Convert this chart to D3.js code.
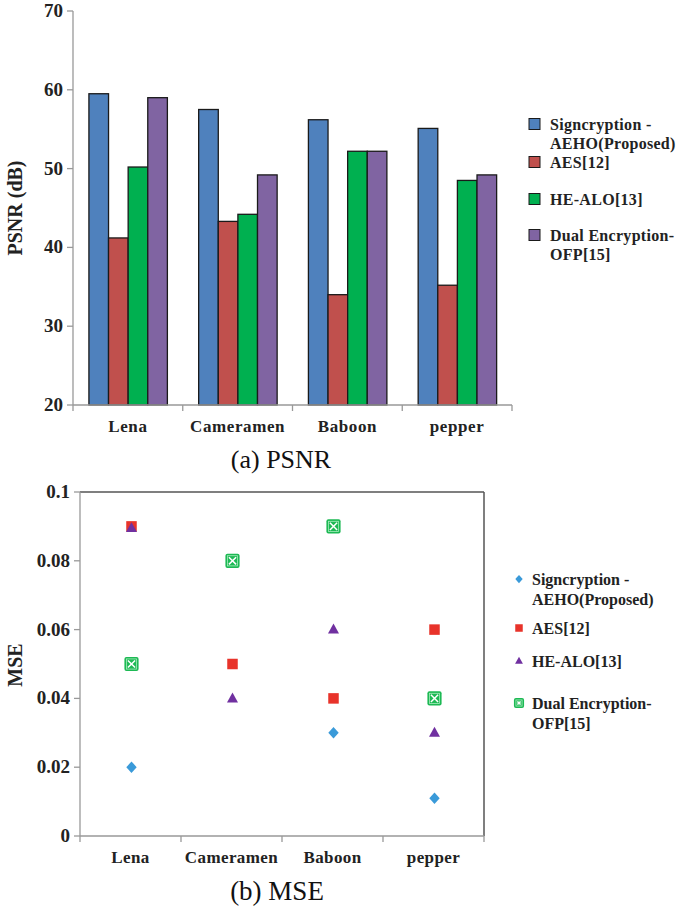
<!DOCTYPE html>
<html>
<head>
<meta charset="utf-8">
<script src="https://cdn.jsdelivr.net/npm/d3@7"></script>
<style>
  body { margin: 0; background: #fff; }
  svg { display: block; font-family: "Liberation Serif", "Times New Roman", serif; }
  .bold { fill: #222; font-weight: bold; }
</style>
</head>
<body>
<svg width="687" height="912"></svg>
<script>
// data
const categories = ["Lena", "Cameramen", "Baboon", "pepper"];
const seriesNames = ["Signcryption - AEHO(Proposed)", "AES[12]", "HE-ALO[13]", "Dual Encryption-OFP[15]"];
const legendLines = [["Signcryption -", "AEHO(Proposed)"], ["AES[12]"], ["HE-ALO[13]"], ["Dual Encryption-", "OFP[15]"]];

const psnrAEHO = [59.5, 57.5, 56.2, 55.1];
const psnrAES = [41.2, 43.3, 34.0, 35.2];
const psnrHEALO = [50.2, 44.2, 52.2, 48.5];
const psnrDualOFP = [59.0, 49.2, 52.2, 49.2];
const psnrTicks = [20, 30, 40, 50, 60, 70];

const mseAEHO = [0.02, null, 0.03, 0.011];
const mseAES = [0.09, 0.05, 0.04, 0.06];
const mseHEALO = [0.0895, 0.04, 0.06, 0.03];
const mseDualOFP = [0.05, 0.08, 0.09, 0.04];
const mseTicks = [0, 0.02, 0.04, 0.06, 0.08, 0.1];

const barColors = ["#4f81bd", "#c0504d", "#00b050", "#8064a2"];
const markerColors = ["#3a9ad9", "#e8332a", "#7030a0", "#1db954"];

const svg = d3.select("svg");

// ---------- (a) PSNR bar chart ----------
const psnrSeries = [psnrAEHO, psnrAES, psnrHEALO, psnrDualOFP];
const boxA = { left: 73, right: 512, top: 11, bottom: 405 };

const xa = d3.scaleBand().domain(categories).range([boxA.left, boxA.right]).padding(0);
const xa1 = d3.scaleBand().domain(d3.range(4))
  .range([xa.bandwidth() * 0.145, xa.bandwidth() * 0.86]).padding(0);
const ya = d3.scaleLinear().domain([20, 70]).range([boxA.bottom, boxA.top]);

const gA = svg.append("g");

categories.forEach((c, ci) => {
  gA.selectAll(null)
    .data(psnrSeries.map((s, si) => ({ si, v: s[ci] })))
    .enter().append("rect")
    .attr("x", d => xa(c) + xa1(d.si))
    .attr("y", d => ya(d.v))
    .attr("width", xa1.bandwidth())
    .attr("height", d => ya(20) - ya(d.v))
    .attr("fill", d => barColors[d.si])
    .attr("stroke", "#1a1a1a")
    .attr("stroke-width", 1.3);
});

// axes
gA.append("line").attr("x1", boxA.left).attr("x2", boxA.left)
  .attr("y1", ya(70)).attr("y2", ya(20)).attr("stroke", "#999").attr("stroke-width", 1.3);
gA.append("line").attr("x1", boxA.left).attr("x2", boxA.right)
  .attr("y1", ya(20)).attr("y2", ya(20)).attr("stroke", "#999").attr("stroke-width", 1.3);

gA.selectAll(null).data(psnrTicks).enter().append("line")
  .attr("x1", boxA.left - 6).attr("x2", boxA.left)
  .attr("y1", d => ya(d)).attr("y2", d => ya(d))
  .attr("stroke", "#999").attr("stroke-width", 1.3);
gA.selectAll(null).data(psnrTicks).enter().append("text")
  .attr("class", "bold")
  .attr("x", boxA.left - 10).attr("y", d => ya(d) + 6)
  .attr("text-anchor", "end").attr("font-size", 19)
  .text(d => d);

const bandEdgesA = categories.map(c => xa(c)).concat([boxA.right]);
gA.selectAll(null).data(bandEdgesA).enter().append("line")
  .attr("x1", d => d).attr("x2", d => d)
  .attr("y1", ya(20)).attr("y2", ya(20) + 6)
  .attr("stroke", "#999").attr("stroke-width", 1.3);
gA.selectAll(null).data(categories).enter().append("text")
  .attr("class", "bold")
  .attr("x", d => xa(d) + xa.bandwidth() / 2).attr("y", 432)
  .attr("text-anchor", "middle").attr("font-size", 17)
  .attr("letter-spacing", 0.6)
  .text(d => d);

gA.append("text")
  .attr("class", "bold")
  .attr("transform", `translate(22,208) rotate(-90)`)
  .attr("text-anchor", "middle").attr("font-size", 20)
  .text("PSNR (dB)");

gA.append("text").attr("x", 281).attr("y", 468)
  .attr("text-anchor", "middle").attr("font-size", 26).attr("fill", "#111")
  .text("(a) PSNR");

// legend a
const legARows = [124, 162, 199, 235];
const legA = gA.selectAll(null).data(seriesNames).enter().append("g")
  .attr("transform", (d, i) => `translate(529,${legARows[i]})`);
legA.append("rect").attr("x", 0).attr("y", -5.5).attr("width", 11).attr("height", 11)
  .attr("fill", (d, i) => barColors[i]).attr("stroke", "#1a1a1a").attr("stroke-width", 1);
legA.append("text").attr("class", "bold").attr("font-size", 16)
  .attr("letter-spacing", 0.3)
  .selectAll("tspan").data((d, i) => legendLines[i]).enter().append("tspan")
  .attr("x", 21).attr("y", (d, j) => 6 + j * 19)
  .text(d => d);

// ---------- (b) MSE scatter ----------
const mseSeries = [mseAEHO, mseAES, mseHEALO, mseDualOFP];
const boxB = { left: 80, right: 484, top: 492, bottom: 836 };

const xb = d3.scaleBand().domain(categories).range([boxB.left, boxB.right]).padding(0);
const yb = d3.scaleLinear().domain([0, 0.1]).range([boxB.bottom, boxB.top]);

const gB = svg.append("g");

// frame: top & right dark, left & bottom gray
gB.append("line").attr("x1", boxB.left).attr("x2", boxB.right).attr("y1", boxB.top).attr("y2", boxB.top)
  .attr("stroke", "#555").attr("stroke-width", 1.5);
gB.append("line").attr("x1", boxB.right).attr("x2", boxB.right).attr("y1", boxB.top).attr("y2", boxB.bottom)
  .attr("stroke", "#555").attr("stroke-width", 1.5);
gB.append("line").attr("x1", boxB.left).attr("x2", boxB.left).attr("y1", boxB.top).attr("y2", boxB.bottom)
  .attr("stroke", "#999").attr("stroke-width", 1.3);
gB.append("line").attr("x1", boxB.left).attr("x2", boxB.right).attr("y1", boxB.bottom).attr("y2", boxB.bottom)
  .attr("stroke", "#999").attr("stroke-width", 1.3);

gB.selectAll(null).data(mseTicks).enter().append("line")
  .attr("x1", boxB.left - 6).attr("x2", boxB.left)
  .attr("y1", d => yb(d)).attr("y2", d => yb(d))
  .attr("stroke", "#999").attr("stroke-width", 1.3);
gB.selectAll(null).data(mseTicks).enter().append("text")
  .attr("class", "bold")
  .attr("x", boxB.left - 10).attr("y", d => yb(d) + 6)
  .attr("text-anchor", "end").attr("font-size", 19)
  .text(d => d);

const bandEdgesB = categories.map(c => xb(c)).concat([boxB.right]);
gB.selectAll(null).data(bandEdgesB).enter().append("line")
  .attr("x1", d => d).attr("x2", d => d)
  .attr("y1", boxB.bottom).attr("y2", boxB.bottom + 6)
  .attr("stroke", "#999").attr("stroke-width", 1.3);
gB.selectAll(null).data(categories).enter().append("text")
  .attr("class", "bold")
  .attr("x", d => xb(d) + xb.bandwidth() / 2).attr("y", 863)
  .attr("text-anchor", "middle").attr("font-size", 17)
  .attr("letter-spacing", 0.4)
  .text(d => d);

gB.append("text")
  .attr("class", "bold")
  .attr("transform", `translate(22,665) rotate(-90)`)
  .attr("text-anchor", "middle").attr("font-size", 20)
  .text("MSE");

gB.append("text").attr("x", 277).attr("y", 900)
  .attr("text-anchor", "middle").attr("font-size", 27).attr("fill", "#111")
  .text("(b) MSE");

// markers
function drawMarker(g, si, size) {
  if (si === 0) {
    const h = size * 0.55;
    g.append("path").attr("d", `M0,${-h}L${h * 0.9},0L0,${h}L${-h * 0.9},0Z`)
      .attr("fill", markerColors[0]);
  } else if (si === 1) {
    g.append("rect").attr("x", -size / 2).attr("y", -size / 2)
      .attr("width", size).attr("height", size).attr("fill", markerColors[1]);
  } else if (si === 2) {
    const h = size * 0.95;
    g.append("path").attr("d", `M0,${-h * 0.6}L${h * 0.55},${h * 0.4}L${-h * 0.55},${h * 0.4}Z`)
      .attr("fill", markerColors[2]);
  } else {
    const s = size * 1.35;
    g.append("rect").attr("x", -s / 2).attr("y", -s / 2).attr("width", s).attr("height", s)
      .attr("rx", 2).attr("fill", markerColors[3]);
    g.append("path")
      .attr("d", `M${-s / 2 + 3.5},${-s / 2 + 3.5}L${s / 2 - 3.5},${s / 2 - 3.5}M${s / 2 - 3.5},${-s / 2 + 3.5}L${-s / 2 + 3.5},${s / 2 - 3.5}`)
      .attr("stroke", "#fff").attr("stroke-width", 1.5);
    g.append("rect").attr("x", -s / 2 + 2).attr("y", -s / 2 + 2).attr("width", s - 4).attr("height", s - 4)
      .attr("fill", "none").attr("stroke", "#a8ecbd").attr("stroke-width", 0.8);
  }
}

const drawOrder = [3, 1, 2, 0];
drawOrder.forEach(si => {
  mseSeries[si].forEach((v, ci) => {
    if (v === null) return;
    const g = gB.append("g")
      .attr("transform", `translate(${xb(categories[ci]) + xb.bandwidth() / 2 + 1},${yb(v)})`);
    drawMarker(g, si, 10.5);
  });
});

// legend b
const legBRows = [579, 628, 661, 703];
const legB = gB.selectAll(null).data(seriesNames).enter().append("g")
  .attr("transform", (d, i) => `translate(519,${legBRows[i]})`);
legB.each(function (d, i) {
  drawMarker(d3.select(this), i, 7.5);
});
legB.append("text").attr("class", "bold").attr("font-size", 16)
  .selectAll("tspan").data((d, i) => legendLines[i]).enter().append("tspan")
  .attr("x", 13).attr("y", (d, j) => 6 + j * 20)
  .text(d => d);
</script>
</body>
</html>
